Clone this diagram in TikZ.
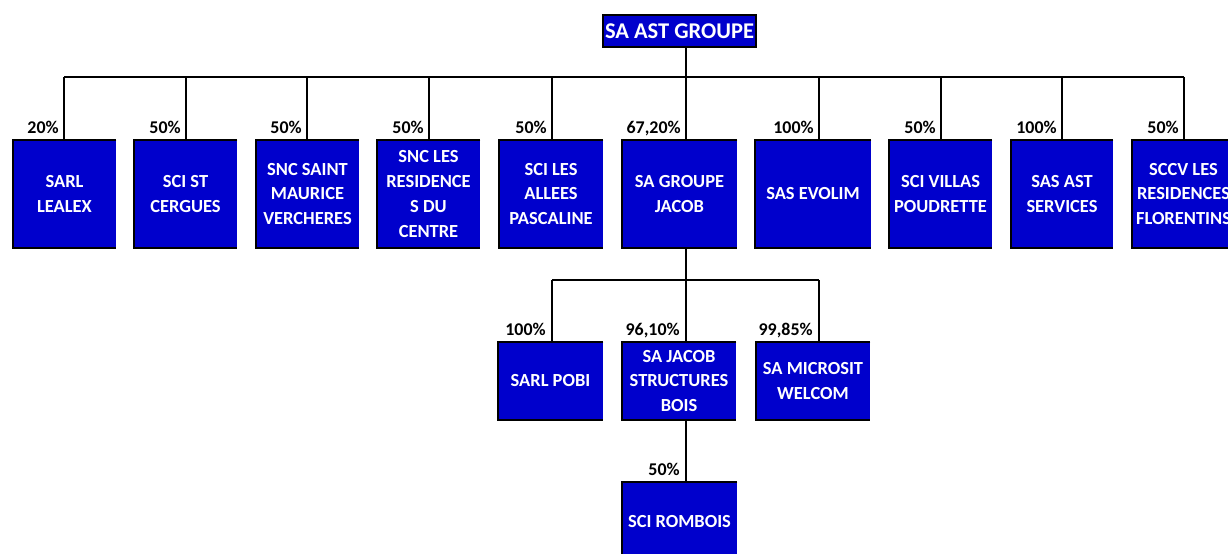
\documentclass[tikz,border=0pt]{standalone}
\usepackage{fontspec}
\setmainfont{Carlito}
\usepackage{xcolor}
\usetikzlibrary{positioning}
\definecolor{entblue}{RGB}{0,0,204}
\tikzset{ent/.style={fill=entblue,text=white,align=center,inner sep=1pt,font=\bfseries\fontsize{10.5}{14.2}\selectfont,minimum width=2.06cm,minimum height=2.16cm}}
\tikzset{pct/.style={anchor=base east,inner sep=0pt,font=\bfseries\fontsize{10.2}{11}\selectfont}}
\tikzset{lnk/.style={line width=1.25pt}}

\begin{document}
\begin{tikzpicture}[x=0.02cm,y=-0.02cm]
    \useasboundingbox (0,0) rectangle (1228,554);

    \node[ent,draw,line width=1.25pt,minimum width=3.06cm,minimum height=0.64cm,font=\bfseries\fontsize{12.8}{15}\selectfont] (top) at (679.5,31) {SA AST GROUPE};

    % first level
    \node[ent] (a) at (64.5,194) {SARL\\LEALEX};
    \node[ent] (b) at (185.5,194) {SCI ST\\CERGUES};
    \node[ent] (c) at (307.5,194) {SNC SAINT\\MAURICE\\VERCHERES};
    \node[ent] (d) at (428.5,194) {SNC LES\\RESIDENCE\\S DU\\CENTRE};
    \node[ent,minimum width=2.08cm] (e) at (551,194) {SCI LES\\ALLEES\\PASCALINE};
    \node[ent,minimum width=2.3cm] (f) at (679.5,194) {SA GROUPE\\JACOB};
    \node[ent,minimum width=2.32cm] (g) at (813,194) {SAS EVOLIM};
    \node[ent] (h) at (940.5,194) {SCI VILLAS\\POUDRETTE};
    \node[ent,minimum width=2.04cm] (i) at (1062,194) {SAS AST\\SERVICES};
    \node[ent] (j) at (1183.5,194) {SCCV LES\\RESIDENCES\\FLORENTINS};

    % second level
    \node[ent,minimum width=2.1cm,minimum height=1.56cm] (k) at (550.5,381) {SARL POBI};
    \node[ent,minimum width=2.28cm,minimum height=1.56cm] (l) at (679,381) {SA JACOB\\STRUCTURES\\BOIS};
    \node[ent,minimum width=2.28cm,minimum height=1.56cm] (m) at (813,381) {SA MICROSIT\\WELCOM};

    % third level
    \node[ent,minimum width=2.3cm,minimum height=1.6cm] (n) at (679.5,522) {SCI ROMBOIS};

    \foreach \n in {a,b,c,d,e,f,g,h,i,j,k,l,m,n}
        \draw[lnk] (\n.north east) -- (\n.north west) -- (\n.south west) -- (\n.south east);

    \coordinate (bus) at (686,77);
    \coordinate (bus2) at (686,280);
    \draw[lnk] (top.south -| bus) -- (bus);
    \draw[lnk] (64,77) -- (1184,77);
    \draw[lnk] (552,280) -- (819,280);

    \foreach \n/\x/\p in {a/64/20\%,b/186/50\%,c/307/50\%,d/429/50\%,e/552/50\%,f/686/{67,20\%},g/819/100\%,h/941/50\%,i/1062/100\%,j/1184/50\%}{
        \coordinate (t\n) at (\x,77);
        \draw[lnk] (t\n) -- (t\n |- \n.north);
        \node[pct] (p\n) at (\x-5,133) {\p};
    }

    \draw[lnk] (f.south -| bus2) -- (bus2);
    \foreach \n/\x/\p in {k/552/100\%,l/686/{96,10\%},m/819/{99,85\%}}{
        \coordinate (t\n) at (\x,280);
        \draw[lnk] (t\n) -- (t\n |- \n.north);
        \node[pct] (p\n) at (\x-6,335) {\p};
    }

    \draw[lnk] (l.south -| bus2) -- (bus2 |- n.north);
    \node[pct] (pn) at (680,475) {50\%};
\end{tikzpicture}
\end{document}
